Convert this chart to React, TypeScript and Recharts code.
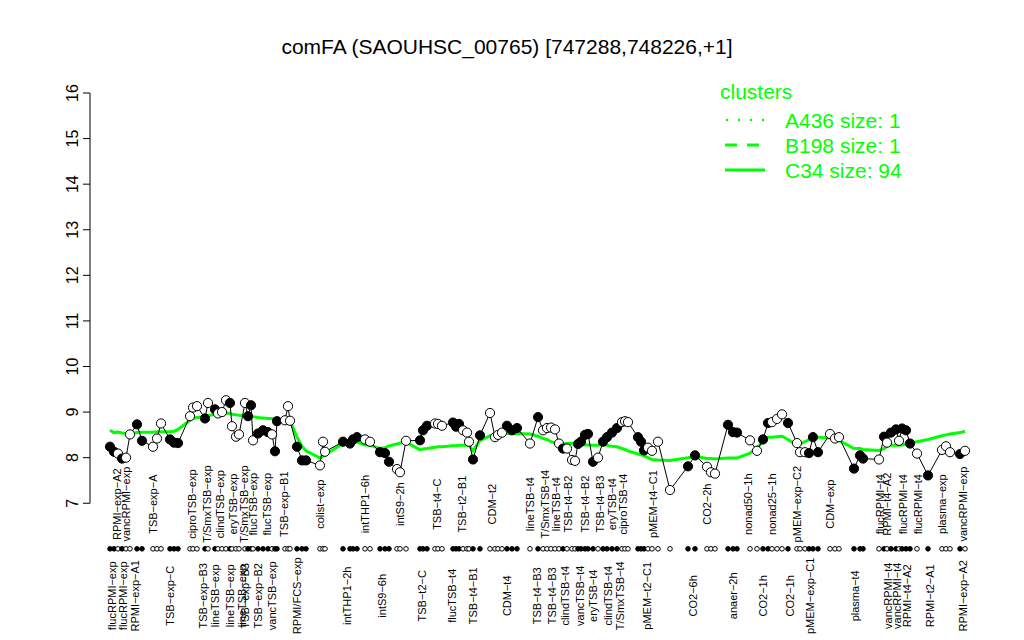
import React from 'react';
import { ComposedChart, Scatter, Line, XAxis, YAxis, ReferenceLine } from 'recharts';

// sample positions along x (conditions are grouped, so there are gaps)
const samplePos = [
  4.0, 4.8, 5.6, 6.4, 7.2, 8.0, 9.4, 10.4, 12.6, 13.4, 14.2, 16.0, 16.8, 17.6,
  20.0, 20.6, 21.4, 23.0, 23.6, 25.0, 25.6, 26.4, 27.2, 28.0, 28.4, 29.2, 29.8,
  31.0, 31.6, 32.2, 32.6, 33.6, 34.6, 35.6, 36.4, 37.0, 37.4, 39.0, 39.6, 40.0,
  41.4, 42.4, 43.2, 46.0, 46.6, 47.0, 50.6, 52.0, 52.6, 53.4, 55.0, 56.0,
  58.0, 59.0, 59.8, 61.4, 62.0, 63.2, 66.0, 66.6, 67.4, 69.0, 69.6, 70.4,
  72.6, 73.2, 73.8, 74.6, 75.4, 75.8, 76.6, 78.0, 80.0, 81.0, 81.6, 82.4,
  83.4, 84.4, 85.4, 88.0, 89.6, 90.6, 91.4, 92.2, 93.0, 93.8, 94.6, 95.4,
  96.4, 97.0, 97.6, 98.2, 99.0, 99.6, 100.6, 101.6, 102.6, 103.4, 104.4,
  105.4, 106.4, 107.0, 107.6, 109.6, 110.2, 110.8, 111.6, 112.4, 113.6,
  116.0, 119.6, 121.0, 123.4, 124.2, 125.0, 127.6, 128.6, 129.4, 132.0,
  133.4, 134.6, 135.6, 136.4, 137.4, 138.4, 139.6, 141.4, 142.0, 143.0,
  143.8, 144.6, 145.6, 148.0, 149.0, 149.8, 152.8, 154.0, 154.6, 157.8,
  158.8, 159.4, 160.2, 161.2, 161.8, 162.4, 163.2, 164.0, 165.4, 167.6,
  170.4, 171.2, 172.0, 174.0, 175.0,
];

// expression (log2) per sample
const sampleExpr = [
  8.24, 8.13, 8.09, 7.98, 8.0, 8.51, 8.73, 8.37, 8.24, 8.42, 8.75, 8.4, 8.33, 8.32,
  8.91, 9.1, 9.13, 8.86, 9.2, 9.06, 8.97, 9.0, 9.26, 9.2, 8.69, 8.46, 8.51,
  9.2, 8.91, 9.15, 8.38, 8.53, 8.6, 8.56, 8.51, 8.14, 8.8, 8.82, 9.13, 8.81,
  8.24, 7.94, 7.94, 7.83, 8.35, 8.13, 8.35, 8.31, 8.4, 8.45, 8.4, 8.35,
  8.12, 8.1, 7.91, 7.75, 7.68, 8.37, 8.38, 8.6, 8.7, 8.75, 8.74, 8.7,
  8.77, 8.68, 8.74, 8.6, 8.55, 8.35, 7.96, 8.49, 8.98, 8.45, 8.5, 8.55,
  8.7, 8.6, 8.65, 8.31, 8.89, 8.6, 8.65, 8.66, 8.62, 8.31, 8.2, 8.2,
  7.95, 7.93, 8.3, 8.35, 8.5, 8.52, 7.91, 8.0, 8.35, 8.45, 8.55,
  8.65, 8.78, 8.8, 8.78, 8.45, 8.35, 8.16, 8.22, 8.15, 8.35,
  7.29, 7.81, 8.05, 7.8, 7.68, 7.65, 8.72, 8.56, 8.55, 8.38,
  8.15, 8.4, 8.76, 8.78, 8.85, 8.95, 8.76, 8.32, 8.12, 8.12,
  8.1, 8.45, 8.12, 8.52, 8.42, 8.45, 7.76, 8.05, 7.98, 7.96,
  8.46, 8.33, 8.55, 8.62, 8.37, 8.64, 8.6, 8.31, 8.09, 7.61,
  8.17, 8.25, 8.12, 8.08, 8.15,
];

// 1 = filled marker, 0 = open marker
const sampleFilled = [
  1, 1, 0, 1, 0, 0, 1, 1, 0, 0, 0, 1, 1, 1,
  0, 0, 0, 1, 0, 1, 0, 0, 0, 1, 0, 0, 0,
  0, 1, 1, 0, 1, 1, 1, 0, 1, 1, 0, 0, 0,
  1, 1, 1, 0, 0, 0, 1, 1, 1, 1, 0, 0,
  1, 1, 1, 0, 0, 0, 1, 1, 1, 0, 0, 0,
  1, 1, 1, 0, 0, 0, 1, 1, 0, 0, 0, 0,
  1, 1, 1, 0, 1, 0, 0, 0, 0, 0, 1, 0,
  0, 0, 1, 1, 1, 1, 1, 0, 1, 1, 1,
  1, 0, 0, 0, 1, 1, 1, 0, 0, 0,
  0, 1, 1, 0, 0, 0, 1, 1, 1, 0,
  0, 1, 1, 0, 0, 0, 1, 0, 0, 0,
  1, 1, 1, 0, 0, 0, 1, 1, 1, 0,
  1, 0, 1, 1, 0, 1, 1, 1, 0, 1,
  0, 0, 0, 1, 0,
];

// cluster C34 mean per sample
const clusterMean = [
  8.6, 8.55, 8.56, 8.54, 8.53, 8.52, 8.55, 8.56, 8.56, 8.57, 8.57, 8.57, 8.58, 8.62,
  8.82, 8.86, 8.88, 8.9, 8.92, 8.95, 8.96, 8.97, 8.98, 8.97, 8.95, 8.94, 8.93,
  8.92, 8.92, 8.91, 8.9, 8.88, 8.87, 8.86, 8.86, 8.85, 8.85, 8.83, 8.84, 8.82,
  8.45, 8.25, 8.15, 7.99, 8.03, 8.06, 8.31, 8.32, 8.33, 8.34, 8.28, 8.27,
  8.2, 8.22, 8.26, 8.3, 8.32, 8.34, 8.17, 8.19, 8.2, 8.23, 8.24, 8.24,
  8.26, 8.26, 8.27, 8.27, 8.27, 8.27, 8.15, 8.38, 8.48, 8.5, 8.52, 8.53,
  8.53, 8.53, 8.53, 8.52, 8.47, 8.42, 8.4, 8.35, 8.32, 8.3, 8.3, 8.31,
  8.31, 8.31, 8.3, 8.3, 8.28, 8.28, 8.27, 8.27, 8.3, 8.27, 8.25,
  8.24, 8.2, 8.18, 8.15, 8.08, 8.06, 8.04, 8.0, 7.96, 7.95,
  7.94, 8.0, 8.03, 7.98, 7.98, 7.97, 7.99, 7.99, 7.99, 8.1,
  8.22, 8.35, 8.45, 8.45, 8.46, 8.47, 8.4, 8.27, 8.3, 8.35,
  8.4, 8.45, 8.45, 8.43, 8.42, 8.38, 8.2, 8.2, 8.18, 8.16,
  8.2, 8.25, 8.27, 8.27, 8.27, 8.28, 8.3, 8.32, 8.35, 8.4,
  8.48, 8.5, 8.52, 8.55, 8.58,
];

const topLabelPos = [
  5.4, 7.2, 12.6, 20.4, 23.4, 26.0, 28.6, 30.8, 32.6, 35.4, 38.8, 46.0, 55.0,
  62.0, 69.4, 74.4, 80.4, 88.0, 91.0, 93.2, 95.6, 99.0, 102.0, 104.4, 106.6,
  112.6, 123.4, 131.6, 136.4, 141.4, 148.0, 158.0, 159.4, 162.6, 165.6, 170.4, 174.6,
];
const topLabelText = [
  'RPMI\u2212exp\u2212A2', 'vancRPMI\u2212exp', 'TSB\u2212exp\u2212A', 'ciproTSB\u2212exp',
  'T/SmxTSB\u2212exp', 'clindTSB\u2212exp', 'eryTSB\u2212exp', 'T/SmxTSB\u2212exp',
  'flucTSB\u2212exp', 'flucTSB\u2212exp', 'TSB\u2212exp\u2212B1', 'colist\u2212exp',
  'intTHP1\u22126h', 'intS9\u22122h', 'TSB\u2212t4\u2212C', 'TSB\u2212t2\u2212B1', 'CDM\u2212t2',
  'lineTSB\u2212t4', 'T/SmxTSB\u2212t4', 'lineTSB\u2212t4', 'TSB\u2212t4\u2212B2', 'TSB\u2212t4\u2212B2',
  'TSB\u2212t4\u2212B3', 'eryTSB\u2212t4', 'ciproTSB\u2212t4', 'pMEM\u2212t4\u2212C1', 'CO2\u22122h',
  'nonad50\u22121h', 'nonad25\u22121h', 'pMEM\u2212exp\u2212C2', 'CDM\u2212exp', 'flucRPMI\u2212t4',
  'RPMI\u2212t4\u2212A2', 'flucRPMI\u2212t4', 'flucRPMI\u2212t4', 'plasma\u2212exp', 'vancRPMI\u2212exp',
];

const bottomLabelPos = [
  4.4, 6.6, 9.0, 16.0, 22.6, 25.0, 28.0, 30.4, 31.0, 33.6, 36.4, 41.4, 51.4,
  58.4, 66.4, 72.4, 76.6, 83.4, 89.4, 92.4, 95.0, 98.0, 100.6, 103.6, 106.0,
  111.4, 120.6, 128.6, 134.6, 140.0, 144.0, 153.0, 159.6, 161.4, 163.4, 168.0, 174.6,
];
const bottomLabelText = [
  'flucRPMI\u2212exp', 'flucRPMI\u2212exp', 'RPMI\u2212exp\u2212A1', 'TSB\u2212exp\u2212C',
  'TSB\u2212exp\u2212B3', 'lineTSB\u2212exp', 'lineTSB\u2212exp', 'lineTSB\u2212exp',
  'TSB\u2212exp\u2212B3', 'TSB\u2212exp\u2212B2', 'vancTSB\u2212exp', 'RPMI/FCS\u2212exp',
  'intTHP1\u22122h', 'intS9\u22126h', 'TSB\u2212t2\u2212C', 'flucTSB\u2212t4', 'TSB\u2212t4\u2212B1',
  'CDM\u2212t4', 'TSB\u2212t4\u2212B3', 'TSB\u2212t4\u2212B3', 'clindTSB\u2212t4', 'vancTSB\u2212t4',
  'eryTSB\u2212t4', 'clindTSB\u2212t4', 'T/SmxTSB\u2212t4', 'pMEM\u2212t2\u2212C1', 'CO2\u22126h',
  'anaer\u22122h', 'CO2\u22121h', 'CO2\u22121h', 'pMEM\u2212exp\u2212C1', 'plasma\u2212t4',
  'vancRPMI\u2212t4', 'vancRPMI\u2212t4', 'RPMI\u2212t4\u2212A2', 'RPMI\u2212t2\u2212A1', 'RPMI\u2212exp\u2212A2',
];

const yTicks = [7, 8, 9, 10, 11, 12, 13, 14, 15, 16];

const FONT = '"Liberation Sans", Arial, Helvetica, sans-serif';
const GREEN = '#00ff00';

const points = samplePos.map((x, i) => ({ x, y: sampleExpr[i], f: sampleFilled[i] }));
const meanLine = samplePos.map((x, i) => ({ x, y: clusterMean[i] }));
const markerRow = samplePos.map((x, i) => ({ x, y: 6, f: sampleFilled[i] }));
const topLabels = topLabelPos.map((x, i) => ({ x, y: 6.98, t: topLabelText[i] }));
const bottomLabels = bottomLabelPos.map((x, i) => ({ x, y: 4.97, t: bottomLabelText[i] }));

const Dot = (r: number) => (props: any) => {
  const { cx, cy, payload } = props;
  return <circle cx={cx} cy={cy} r={r} fill={payload.f ? '#000' : '#fff'} stroke="#000" strokeWidth={1} />;
};

const RotLabel = (props: any) => {
  const { cx, cy, payload } = props;
  return (
    <text x={cx} y={cy} transform={`rotate(-90, ${cx}, ${cy})`} textAnchor="middle"
      dominantBaseline="central" fontSize={11} fontFamily={FONT} fill="#000">
      {payload.t}
    </text>
  );
};

const YTick = (props: any) => {
  const { x, y, payload } = props;
  const tx = x - 3;
  return (
    <text x={tx} y={y} transform={`rotate(-90, ${tx}, ${y})`} textAnchor="middle"
      fontSize={16} fontFamily={FONT} fill="#000">
      {payload.value}
    </text>
  );
};

export default function App() {
  return (
    <div style={{ position: 'absolute', left: 0, top: 0, width: 1024, height: 640, background: '#fff' }}>
      <ComposedChart width={1024} height={640} margin={{ top: 93, right: 39, bottom: 0, left: 60 }}>
        <XAxis type="number" dataKey="x" domain={[0, 179]} hide />
        <YAxis type="number" dataKey="y" domain={[4, 16]} ticks={yTicks} width={30}
          axisLine={false} tickLine={{ stroke: '#000' }} tickSize={7} tickMargin={2} tick={<YTick />} />
        <ReferenceLine segment={[{ x: 0, y: 7 }, { x: 0, y: 16 }]} stroke="#000" ifOverflow="visible" />
        <Line data={meanLine} dataKey="y" type="linear" stroke={GREEN} strokeWidth={3} dot={false} isAnimationActive={false} />
        <Line data={points} dataKey="y" type="linear" stroke="#000" strokeWidth={1} dot={false} isAnimationActive={false} />
        <Scatter data={points} dataKey="y" shape={Dot(4.6)} isAnimationActive={false} />
        <Scatter data={markerRow} dataKey="y" shape={Dot(2.3)} isAnimationActive={false} />
        <Scatter data={topLabels} dataKey="y" shape={RotLabel} isAnimationActive={false} />
        <Scatter data={bottomLabels} dataKey="y" shape={RotLabel} isAnimationActive={false} />
      </ComposedChart>
      <svg width={1024} height={640} style={{ position: 'absolute', left: 0, top: 0, pointerEvents: 'none' }}>
        <text x={507} y={54} textAnchor="middle" fontSize={21} fontFamily={FONT} fill="#000">
          comFA (SAOUHSC_00765) [747288,748226,+1]
        </text>
        <g fontFamily={FONT} fontSize={21} fill={GREEN}>
          <text x={720} y={99}>clusters</text>
          <line x1={726} y1={120} x2={766} y2={120} stroke={GREEN} strokeWidth={2.5} strokeDasharray="2 10" />
          <text x={785} y={128}>A436 size: 1</text>
          <line x1={725} y1={145} x2={759} y2={145} stroke={GREEN} strokeWidth={3} strokeDasharray="12 10" />
          <text x={785} y={153}>B198 size: 1</text>
          <line x1={725} y1={170} x2={765} y2={170} stroke={GREEN} strokeWidth={3} />
          <text x={785} y={178}>C34 size: 94</text>
        </g>
      </svg>
    </div>
  );
}
